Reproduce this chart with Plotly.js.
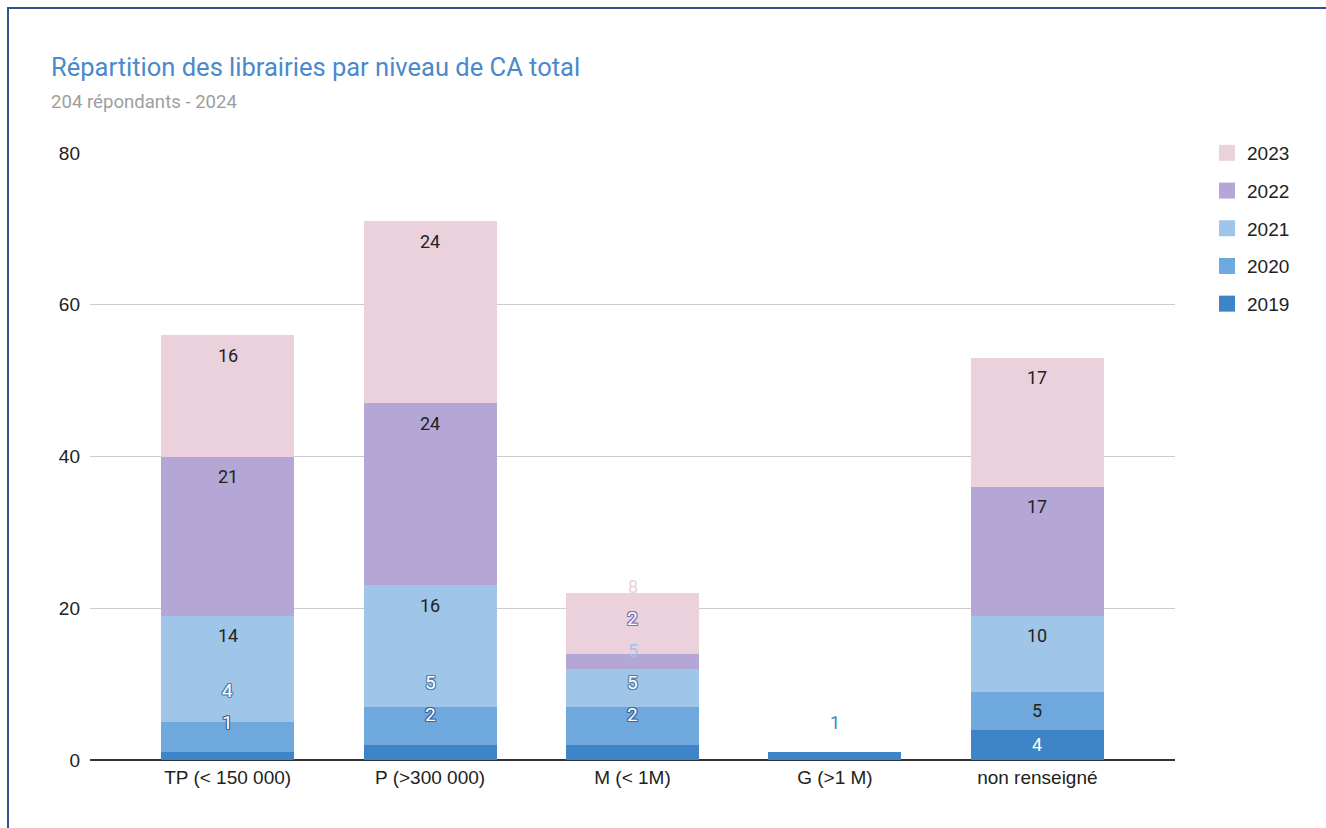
<!DOCTYPE html>
<html>
<head>
<meta charset="utf-8">
<script src="https://cdn.plot.ly/plotly-3.0.1.min.js"></script>
<style>
  html, body { margin: 0; padding: 0; background: #fff; overflow: hidden; }
  #chart { position: absolute; left: 0; top: 0; width: 1326px; height: 828px; }
  #frame { position: absolute; left: 7px; top: 7px; width: 1400px; height: 900px;
           border-left: 2px solid #2f5590; border-top: 2px solid #2f5590; pointer-events: none; z-index: 10; }
</style>
</head>
<body>
<div id="chart"></div>
<div id="frame"></div>
<script>
// ---- data ----
const categories = ["TP (< 150 000)", "P (>300 000)", "M (< 1M)", "G (>1 M)", "non renseigné"];
const seriesNames = ["2019", "2020", "2021", "2022", "2023"];
const v2019 = [1, 2, 2, 1, 4];
const v2020 = [4, 5, 5, 0, 5];
const v2021 = [14, 16, 5, 0, 10];
const v2022 = [21, 24, 2, 0, 17];
const v2023 = [16, 24, 8, 0, 17];
const yTicks = [0, 20, 40, 60, 80];

// ---- styles ----
const colors = ["#3d85c6", "#6fa8dc", "#9fc5e8", "#b4a7d6", "#ead1dc"];
const insideTextColors = ["#ffffff", "#222222", "#222222", "#222222", "#222222"];
const outlineColors = ["#3a6699", "#4f7fb0", null, "#7e6fae", null];

const seriesValues = [v2019, v2020, v2021, v2022, v2023];
const yMax = 80;
const plotTop = 153, plotBottom = 760, plotLeft = 90, plotRight = 1175;
const ppu = (plotBottom - plotTop) / yMax;
const plotH = plotBottom - plotTop, plotW = plotRight - plotLeft;

const traces = [];
seriesValues.forEach((vals, i) => {
  traces.push({
    type: "bar", x: categories, y: vals, name: seriesNames[i],
    marker: { color: colors[i], line: { width: 0 } },
    showlegend: false, hoverinfo: "skip"
  });
});
// legend-only traces (2023 on top)
seriesValues.forEach((vals, i) => {
  traces.push({
    type: "scatter", mode: "markers", x: [null], y: [null], name: seriesNames[i],
    legendgroup: "g" + i, legendrank: seriesValues.length - i,
    marker: { symbol: "square", size: 20, color: colors[i] },
    hoverinfo: "skip"
  });
});

// value labels (Google-Sheets-like placement: near top of segment, pushed up when they don't fit)
const annotations = [];
categories.forEach((cat, c) => {
  let cum = 0, prev = -1e9;
  const total = seriesValues.reduce((s, v) => s + v[c], 0) * ppu;
  seriesValues.forEach((vals, i) => {
    const v = vals[c];
    if (!v) return;
    const bottomPx = cum * ppu;
    cum += v;
    const topPx = cum * ppu;
    const h = topPx - bottomPx;
    const fits = h >= 24;
    const desired = fits ? topPx - Math.min(20, h / 2) : topPx + 30;
    const center = Math.max(desired, prev + 32);
    prev = center;
    const normal = fits && center === desired;
    let font = { family: "Roboto, sans-serif", size: 18, color: insideTextColors[i] };
    if (!normal) {
      if (outlineColors[i] && center < total) {
        const oc = outlineColors[i];
        font.color = "#ffffff";
        font.size = 19;
        font.shadow = `1px 0 0 ${oc}, -1px 0 0 ${oc}, 0 1px 0 ${oc}, 0 -1px 0 ${oc}, 1px 1px 0 ${oc}, -1px -1px 0 ${oc}, 1px -1px 0 ${oc}, -1px 1px 0 ${oc}`;
      } else {
        font.color = colors[i];
      }
    }
    annotations.push({
      x: cat, y: center / ppu, xref: "x", yref: "y",
      text: String(v), showarrow: false, xanchor: "center", yanchor: "middle",
      font: font
    });
  });
});

annotations.push({
  text: "204 répondants - 2024", xref: "paper", yref: "paper",
  x: (49 - plotLeft) / plotW, y: (plotBottom - 102) / plotH, xanchor: "left", yanchor: "middle", showarrow: false,
  font: { family: "Roboto, sans-serif", size: 18.6, color: "#9e9e9e" }
});

const layout = {
  width: 1326, height: 828,
  margin: { l: plotLeft, r: 1326 - plotRight, t: plotTop, b: 828 - plotBottom, pad: 0 },
  paper_bgcolor: "#ffffff", plot_bgcolor: "#ffffff",
  barmode: "stack", bargap: 0.343,
  title: {
    text: "Répartition des librairies par niveau de CA total",
    xref: "container", yref: "container", x: 51 / 1326, y: 1 - 67 / 828,
    xanchor: "left", yanchor: "middle",
    font: { family: "Roboto, sans-serif", size: 25.5, color: "#4a89cc" }
  },
  xaxis: {
    type: "category", categoryorder: "array", categoryarray: categories,
    range: [-0.68, 4.68], showgrid: false, showline: false, ticks: "",
    tickfont: { family: "Liberation Sans, Arial, sans-serif", size: 19, color: "#222222" },
    ticklabelstandoff: 4, fixedrange: true
  },
  yaxis: {
    range: [0, yMax], tickvals: yTicks, ticktext: yTicks.map(String),
    showgrid: true, gridcolor: "#cccccc", gridwidth: 1,
    zeroline: true, zerolinecolor: "#333333", zerolinewidth: 1.5,
    showline: false, ticks: "",
    tickfont: { family: "Liberation Sans, Arial, sans-serif", size: 19, color: "#222222" },
    ticklabelstandoff: 9, fixedrange: true
  },
  legend: {
    x: (1207 - plotLeft) / plotW, xanchor: "left",
    y: 1 + 19 / plotH, yanchor: "top",
    traceorder: "grouped", tracegroupgap: 10,
    font: { family: "Liberation Sans, Arial, sans-serif", size: 19, color: "#222222" },
    itemwidth: 30, bgcolor: "rgba(0,0,0,0)"
  },
  annotations: annotations,
  showlegend: true
};

Plotly.newPlot("chart", traces, layout, { displayModeBar: false, staticPlot: true });
</script>
</body>
</html>
